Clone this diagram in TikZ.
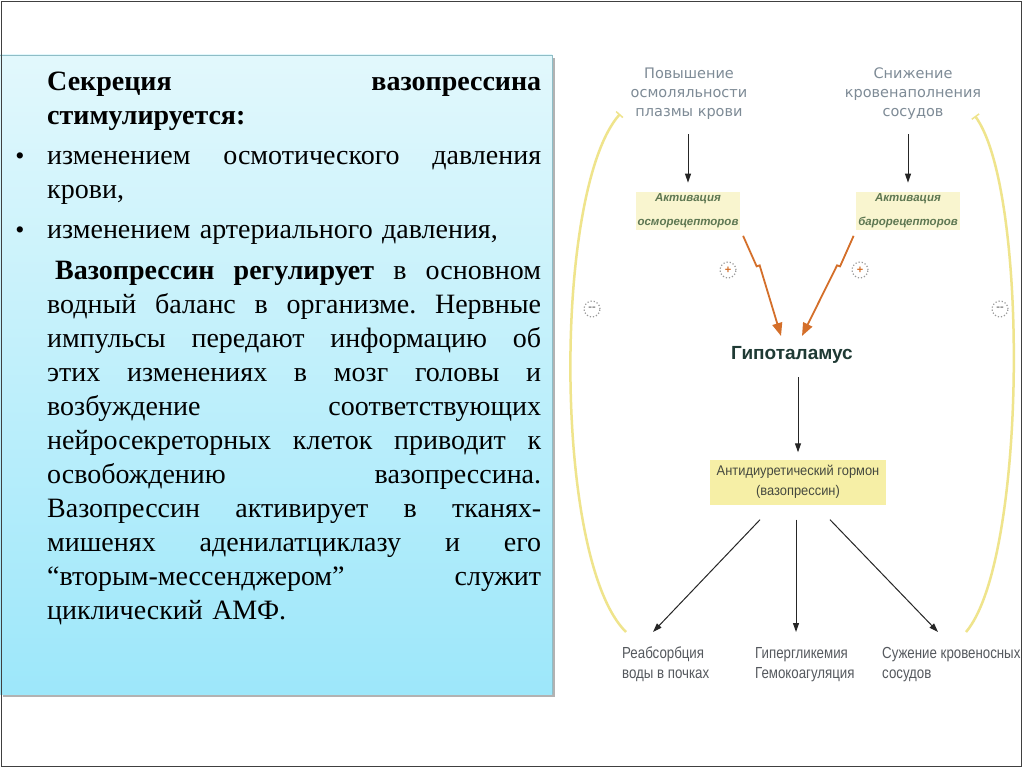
\documentclass[tikz,border=0pt]{standalone}
\usepackage{fontspec}
\setmainfont{Liberation Serif}
\newfontfamily\verdfont{DejaVu Sans}
\newfontfamily\arfont{Liberation Sans}
\newfontfamily\narfont[FakeStretch=0.92]{Liberation Sans}
\newfontfamily\effont[FakeStretch=0.83]{Liberation Sans}
\usetikzlibrary{arrows.meta,calc}

\definecolor{boxtop}{HTML}{E2F8FC}
\definecolor{boxbot}{HTML}{9DE7FA}
\definecolor{boxline}{HTML}{8FBDC6}
\definecolor{causegray}{HTML}{7E8B96}
\definecolor{recgreen}{HTML}{5E7752}
\definecolor{hlyellow}{HTML}{F9F5CF}
\definecolor{adhyellow}{HTML}{F6EFA6}
\definecolor{adhtext}{HTML}{45493F}
\definecolor{hypogreen}{HTML}{1F3A34}
\definecolor{stimorange}{HTML}{D46F2A}
\definecolor{feedyellow}{HTML}{EFE48C}
\definecolor{resgray}{HTML}{55595E}

\frenchspacing
\newcommand{\jline}[1]{\makebox[494pt][s]{\spaceskip=0pt\xspaceskip=0pt #1}}

\tikzstyle{para} = [anchor=base west, text width=494pt, inner sep=0pt, align=left, font=\fontsize{28}{34}\selectfont]
\tikzstyle{bullet} = [anchor=base, inner sep=0pt, font=\fontsize{26}{26}\selectfont]
\tikzstyle{cause} = [align=center, text=causegray, font=\verdfont\fontsize{14.5}{19}\selectfont]
\tikzstyle{receptor} = [align=center, text=recgreen, fill=hlyellow, inner sep=2pt, font=\arfont\bfseries\itshape\fontsize{11.5}{24}\selectfont]
\tikzstyle{hypo} = [text=hypogreen, font=\arfont\bfseries\fontsize{19}{19}\selectfont]
\tikzstyle{hormone} = [align=center, text=adhtext, fill=adhyellow, minimum width=176pt, minimum height=45pt, font=\narfont\fontsize{14}{20}\selectfont]
\tikzstyle{effect} = [align=left, anchor=north west, inner sep=0pt, text=resgray, font=\effont\fontsize{16}{20}\selectfont]
\tikzstyle{down} = [-{Triangle[length=9pt,width=6pt]}, line width=1pt, black!85]
\tikzstyle{stim} = [-{Triangle[length=13pt,width=10pt]}, line width=1.8pt, stimorange]
\tikzstyle{feedback} = [-{Bar[width=9pt,line width=1.5pt]}, line width=2.5pt, feedyellow]
\tikzstyle{sign} = [circle, draw=gray!80, dotted, line width=1.2pt, minimum size=16pt, inner sep=0pt, font=\arfont\bfseries\fontsize{11}{11}\selectfont]

\begin{document}
\begin{tikzpicture}[x=1pt, y=-1pt]

    \useasboundingbox (0,0) rectangle (1024,768);
    \fill[white] (0,0) rectangle (1024,768);

    % Панель с текстом
    \fill[black!30] (3,58) rectangle (555,697);
    \fill[top color=boxtop, bottom color=boxbot] (0,55) rectangle (552,694);
    \draw[boxline] (0,55.5) -- (552,55.5) -- (552,694);

    \node[para] (head) at (47,90) {\bfseries\jline{Секреция вазопрессина}\\стимулируется:};
    \node[para] (item1) at (47,164) {\jline{изменением осмотического давления}\\крови,};
    \node[para] (item2) at (47,238) {изменением артериального давления,};
    \node[bullet] (dot1) at (20,164) {\textbullet};
    \node[bullet] (dot2) at (20,238) {\textbullet};
    \node[para] (body) at (47,279) {\jline{\hspace*{8pt}\textbf{Вазопрессин регулирует} в основном}\\
        \jline{водный баланс в организме. Нервные}\\
        \jline{импульсы передают информацию об}\\
        \jline{этих изменениях в мозг головы и}\\
        \jline{возбуждение соответствующих}\\
        \jline{нейросекреторных клеток приводит к}\\
        \jline{освобождению вазопрессина.}\\
        \jline{Вазопрессин активирует в тканях-}\\
        \jline{мишенях аденилатциклазу и его}\\
        \jline{“вторым-мессенджером” служит}\\
        циклический АМФ.};

    % Схема
    \node[cause] (osm) at (689,94) {Повышение\\осмоляльности\\плазмы крови};
    \node[cause] (vol) at (913,94) {Снижение\\кровенаполнения\\сосудов};
    \node[receptor] (osmrec) at (688,211) {Активация\\осморецепторов};
    \node[receptor] (barorec) at (908,211) {Активация\\барорецепторов};
    \node[hypo] (hypo) at (792,355) {Гипоталамус};
    \node[hormone] (adh) at (798,482) {Антидиуретический гормон\\(вазопрессин)};
    \node[effect] (reab) at (622,647) {Реабсорбция\\воды в почках};
    \node[effect] (glyc) at (755,647) {Гипергликемия\\Гемокоагуляция};
    \node[effect] (vaso) at (882,647) {Сужение кровеносных\\сосудов};

    \node[sign, text=stimorange] (plus1) at (728,270) {+};
    \node[sign, text=stimorange] (plus2) at (860,270) {+};
    \node[sign, text=gray] (minus1) at (592,309) {--};
    \node[sign, text=gray] (minus2) at (1000,309) {--};

    % Стрелки
    \draw[down, shorten <=11pt, shorten >=9pt] (osmrec |- osm.south) -- (osmrec.north);
    \draw[down, shorten <=11pt, shorten >=9pt] (barorec |- vol.south) -- (barorec.north);
    \draw[stim, shorten <=6pt] (osmrec.south east) -- ++(16,36) -- ++(3,-1) -- ($(hypo.north)+(-11,-7)$);
    \draw[stim, shorten <=6pt] (barorec.south west) -- ++(-16,36) -- ++(-3,-1) -- ($(hypo.north)+(10,-7)$);
    \draw[down, shorten <=10pt, shorten >=7pt] (adh |- hypo.south) -- (adh.north);
    \draw[down] ($(adh.south)+(-38,15)$) -- ($(reab.north west)+(31,-15)$);
    \draw[down] ($(adh.south)+(-2,15)$) -- ($(glyc.north west)+(41,-15)$);
    \draw[down] ($(adh.south)+(32,15)$) -- ($(vaso.north west)+(56,-15)$);

    % Обратная связь
    \coordinate (lbot) at (626,632);
    \coordinate (ltop) at (620,114);
    \coordinate (rbot) at (966,632);
    \coordinate (rtop) at (975,116);
    \draw[feedback] (lbot) .. controls (553,560) and (553,190) .. (ltop);
    \draw[feedback] (rbot) .. controls (1027,560) and (1029,190) .. (rtop);

    % Рамка
    \draw[line width=1.5pt, black!75] (1.5,1.5) rectangle (1021.5,766.5);

\end{tikzpicture}
\end{document}
